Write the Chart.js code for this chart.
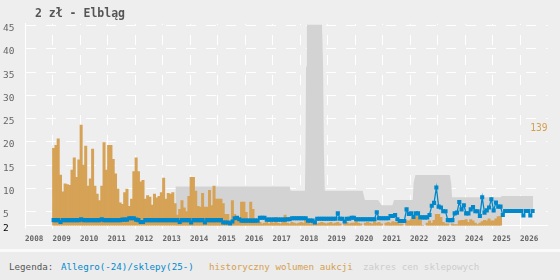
<!DOCTYPE html>
<html>
<head>
<meta charset="utf-8">
<script src="https://cdn.jsdelivr.net/npm/chart.js"></script>
<style>
  body { margin: 0; background: #eeeeee; }
  #wrap { position: relative; width: 560px; height: 280px; overflow: hidden; }
  canvas { position: absolute; left: 0; top: 0; }
  #title { position: absolute; left: 35px; top: 7px; font: bold 11.5px/12px "DejaVu Sans Mono", monospace; color: #555; white-space: pre; }
  #legend { position: absolute; left: 0; top: 249px; width: 560px; height: 28px; border-top: 3px solid #fafafa; background: #ececec; font: 9.2px/12px "DejaVu Sans Mono", monospace; }
  #legend span { position: absolute; top: 9px; white-space: pre; }
</style>
</head>
<body>
<div id="wrap">
  <canvas id="priceChart" width="560" height="249"></canvas>
  <div id="title">2 zł - Elbląg</div>
  <div id="legend">
    <span style="left:9px;color:#555">Legenda:</span>
    <span style="left:61px;color:#0088cc">Allegro(-24)/sklepy(25-)</span>
    <span style="left:209px;color:#d4a04f">historyczny wolumen aukcji</span>
    <span style="left:363px;color:#cccccc">zakres cen sklepowych</span>
  </div>
</div>
<script>
// x axis years, y axis ticks
const yearLabels = [2008, 2009, 2010, 2011, 2012, 2013, 2014, 2015, 2016, 2017,
  2018, 2019, 2020, 2021, 2022, 2023, 2024, 2025, 2026];
const yTickValues = [2, 5, 10, 15, 20, 25, 30, 35, 40, 45];

// monthly series start in January 2009
const firstYear = 2009;

// auction volume per month
const volume = [
  107, 111, 120, 70, 47, 58, 57, 56, 77, 94, 67, 91,
  139, 84, 110, 55, 65, 106, 55, 44, 35, 55, 115, 77,
  111, 111, 92, 72, 51, 32, 30, 46, 51, 27, 37, 75,
  94, 75, 61, 63, 37, 42, 40, 29, 44, 39, 41, 46,
  66, 37, 45, 44, 46, 31, 15, 23, 35, 25, 20, 41,
  67, 67, 48, 27, 26, 45, 26, 26, 49, 28, 55, 37,
  37, 37, 31, 16, 16, 5, 35, 16, 12, 10, 33, 33,
  19, 7, 33, 23, 10, 4, 5, 3, 4, 6, 3, 5,
  4, 12, 4, 3, 5, 15, 4, 3, 5, 4, 3, 4,
  5, 4, 11, 4, 3, 5, 4, 3, 4, 5, 4, 3,
  4, 5, 3, 4, 5, 3, 0, 4, 5, 3, 4, 4,
  12, 4, 3, 0, 4, 5, 4, 3, 6, 4, 5, 3,
  0, 4, 5, 4, 6, 5, 5, 3, 3, 0, 7, 7,
  9, 10, 13, 13, 8, 1, 0, 4, 7, 4, 8, 16,
  16, 12, 5, 3, 3, 0, 3, 2, 2, 7, 8, 8,
  9, 5, 9, 7, 4, 2, 4, 6, 8, 7, 10, 7,
  7, 10, 13, 13
];

// Allegro / shop price per month
const price = [
  3.2, 3.2, 3.2, 2.8, 3.2, 3.2, 3.2, 3.2, 3.2, 3.2, 3.2, 3.2,
  3.4, 3.2, 3.2, 3.2, 3.2, 3.2, 3.2, 3.2, 3.2, 3.4, 3.2, 3.2,
  3.2, 3.2, 3.2, 3.2, 3.2, 3.2, 3.3, 3.3, 3.3, 3.6, 3.6, 3.6,
  3.3, 3.2, 2.8, 2.8, 3.2, 3.2, 3.2, 3.2, 3.2, 3.2, 3.2, 3.2,
  3.2, 3.2, 3.2, 3.2, 3.2, 3.2, 3.2, 2.8, 3.2, 3.2, 3.2, 3.2,
  2.7, 3.2, 3.2, 3.2, 3.2, 3.2, 2.7, 3.2, 3.2, 3.2, 3.2, 3.2,
  3.2, 3.2, 2.7, 2.7, 2.7, 2.5, 2.9, 3.6, 3.7, 3.4, 3.1, 3.1,
  3.1, 3.1, 3.1, 3.1, 3.1, 3.1, 3.7, 3.7, 3.7, 3.3, 3.3, 3.3,
  3.3, 3.3, 3.3, 3.3, 3.3, 3.3, 3.4, 3.4, 3.6, 3.6, 3.6, 3.6,
  3.6, 3.6, 3.6, 3.1, 3.1, 3.1, 2.7, 3.5, 3.5, 3.5, 3.5, 3.5,
  3.5, 3.5, 3.5, 3.5, 4.65, 3.5, 3.5, 2.9, 3.5, 3.5, 3.7, 3.7,
  3.4, 3.4, 3.4, 3.4, 3.4, 3.4, 3.4, 3.4, 3.4, 4.9, 3.6, 3.6,
  3.6, 3.6, 3.6, 4.1, 4.1, 4.3, 3.4, 3.0, 3.0, 3.0, 5.5, 4.5,
  4.65, 3.9, 4.65, 4.65, 3.8, 3.8, 3.8, 3.8, 4.3, 6.3, 6.9, 10.2,
  6.1, 5.9, 5.1, 5.1, 3.2, 3.2, 3.2, 4.65, 4.8, 7.1, 5.5, 6.4,
  4.65, 4.65, 5.5, 6.0, 5.1, 5.1, 4.1, 8.1, 4.8, 5.3, 5.9, 7.7,
  5.3, 7.0, 6.1, 6.1, 4.3, 5.15, 5.15, 5.15, 5.15, 5.15, 5.15, 5.15,
  5.15, 4.2, 5.15, 5.15, 4.2, 5.15
];

// shop price range
const shopYears = [2013.47, 2017.62, 2017.66, 2018.18, 2018.2, 2018.22, 2018.25, 2018.8, 2018.84,
  2018.87, 2018.9, 2020.28, 2020.36, 2020.84, 2020.97, 2021.36, 2021.42, 2022.1, 2022.13,
  2022.17, 2022.2, 2023.45, 2023.5, 2023.53, 2025.3, 2025.33, 2026.48];
const shopHigh = [10.4, 10.4, 9.5, 9.5, 18.2, 36.2, 45.2, 45.2, 36.2,
  18.2, 9.5, 9.5, 7.5, 7.5, 6.4, 6.4, 7.5, 7.5, 11.1,
  12.2, 12.9, 12.9, 11.0, 8.1, 8.1, 8.4, 8.4];
const shopLow = [2, 2, 2, 2, 2, 2, 2, 2, 2,
  2, 2, 2, 2, 2, 2, 2, 2, 2, 2,
  2, 2, 2, 2, 2, 2, 5.0, 5.0];

const monthX = (i) => firstYear + (i + 0.5) / 12;

const maxLabel = {
  id: "maxLabel",
  afterDatasetsDraw(chart) {
    const maxVol = Math.max(...volume);
    const y = chart.scales.yv.getPixelForValue(maxVol);
    const ctx = chart.ctx;
    ctx.save();
    ctx.font = '9.6px "DejaVu Sans Mono"';
    ctx.fillStyle = "#d4a04f";
    ctx.textAlign = "right";
    ctx.textBaseline = "middle";
    ctx.fillText(String(maxVol), chart.chartArea.right, y + 3.5);
    ctx.restore();
  },
};

const ctx1 = document.getElementById("priceChart");

new Chart(ctx1, {
  type: "line",
  data: {
    datasets: [
      {
        label: "Allegro(-24)/sklepy(25-)",
        data: price.map((v, i) => ({ x: monthX(i), y: v })),
        borderColor: "#0088cc",
        backgroundColor: "#0088cc",
        borderWidth: 1.3,
        pointStyle: "rect",
        pointRadius: 2.9,
        pointBorderWidth: 0,
        pointBackgroundColor: "#0088cc",
        yAxisID: "y",
        order: 0,
      },
      {
        type: "bar",
        label: "historyczny wolumen aukcji",
        data: volume.map((v, i) => ({ x: monthX(i), y: v })),
        backgroundColor: "#d6a256",
        borderWidth: 0,
        barThickness: 3,
        inflateAmount: 0,
        yAxisID: "yv",
        order: 1,
      },
      {
        label: "zakres cen sklepowych",
        data: shopYears.map((x, i) => ({ x: x, y: shopHigh[i] })),
        borderColor: "transparent",
        borderWidth: 0,
        pointRadius: 0,
        backgroundColor: "#d3d3d3",
        fill: "+1",
        yAxisID: "y",
        order: 2,
      },
      {
        label: "shop low",
        data: shopYears.map((x, i) => ({ x: x, y: shopLow[i] })),
        borderColor: "transparent",
        borderWidth: 0,
        pointRadius: 0,
        fill: false,
        yAxisID: "y",
        order: 3,
      },
    ],
  },
  options: {
    responsive: false,
    animation: false,
    events: [],
    layout: {
      padding: { left: 3, right: 12.5, top: 23.8, bottom: 0 },
    },
    plugins: {
      legend: { display: false },
      tooltip: { enabled: false },
    },
    scales: {
      x: {
        type: "linear",
        min: 2008,
        max: 2027,
        offset: false,
        afterBuildTicks: (s) => {
          s.ticks = yearLabels.map((v) => ({ value: v }));
        },
        afterFit: (s) => {
          s.height = 23.3;
        },
        grid: {
          color: "#ffffff",
          offset: false,
          tickLength: 3,
          tickColor: "#ffffff",
        },
        border: {
          display: true,
          color: "#ffffff",
          dash: [10, 10],
          dashOffset: 8.8,
        },
        ticks: {
          align: "start",
          maxRotation: 0,
          autoSkip: false,
          padding: 6,
          color: "#666",
          font: { family: "DejaVu Sans Mono", size: 7.6, weight: "bold" },
          callback: (v) => String(v),
        },
      },
      y: {
        type: "linear",
        min: 2,
        max: 45.4,
        afterBuildTicks: (s) => {
          s.ticks = yTickValues.map((v) => ({ value: v }));
        },
        afterFit: (s) => {
          s.width = 22;
        },
        grid: {
          color: "#ffffff",
          drawTicks: false,
        },
        border: {
          display: true,
          color: "#ffffff",
          dash: [10, 10],
        },
        ticks: {
          crossAlign: "far",
          padding: 0,
          labelOffset: 3,
          color: (c) => (c.tick && c.tick.value === 2 ? "#000" : "#666"),
          font: { family: "DejaVu Sans Mono", size: 9.5 },
          callback: (v) => String(v),
        },
      },
      yv: {
        type: "linear",
        display: false,
        min: 0,
        max: 278,
      },
    },
  },
  plugins: [maxLabel],
});
</script>
</body>
</html>
